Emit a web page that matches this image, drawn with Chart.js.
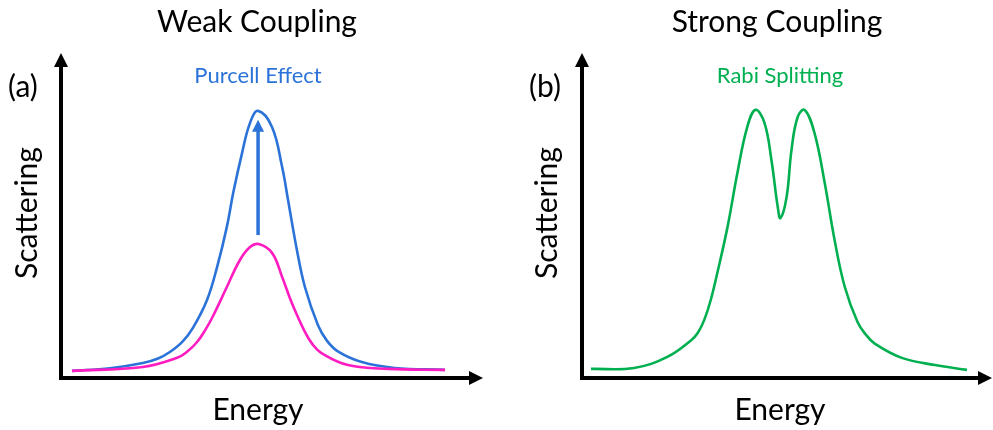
<!DOCTYPE html>
<html>
<head>
<meta charset="utf-8">
<script src="https://cdn.jsdelivr.net/npm/chart.js@4.4.1/dist/chart.umd.min.js"></script>
<style>
  html, body { margin: 0; padding: 0; background: #fff; }
  #wrap { position: relative; width: 993px; height: 430px; overflow: hidden; font-family: Lato, "Noto Sans", sans-serif; color: #000; }
  .panel { position: absolute; top: 0; height: 430px; }
  .txt { position: absolute; white-space: nowrap; font-size: 30px; line-height: 30px; }
  .mid { transform: translateX(-50%); }
  .note { font-size: 22px; line-height: 22px; }
  .vert { transform: translate(-50%, -50%) rotate(-90deg); }
</style>
</head>
<body>
<div id="wrap">
  <div class="panel" style="left:0;width:496px"><canvas id="weak" width="496" height="430"></canvas></div>
  <div class="panel" style="left:496px;width:497px"><canvas id="strong" width="497" height="430"></canvas></div>

  <div class="txt mid" style="left:257px;top:5px">Weak Coupling</div>
  <div class="txt mid" style="left:777px;top:5px">Strong Coupling</div>
  <div class="txt" style="left:8px;top:70px">(a)</div>
  <div class="txt" style="left:529px;top:70px">(b)</div>
  <div class="txt note mid" id="purcell" style="left:258px;top:64px">Purcell Effect</div>
  <div class="txt note mid" id="rabi" style="left:780px;top:64px">Rabi Splitting</div>
  <div class="txt vert" style="left:25px;top:213px">Scattering</div>
  <div class="txt vert" style="left:545px;top:213px">Scattering</div>
  <div class="txt mid" style="left:258px;top:393px">Energy</div>
  <div class="txt mid" style="left:780px;top:393px">Energy</div>
</div>

<script>
// energy axis runs 0..10, scattering 0..10 (arbitrary units)
const bareEnergy = [0.26, 1.94, 2.75, 2.98, 3.22, 3.42, 3.60, 3.93, 4.24, 4.48, 4.68, 5.00, 5.24, 5.47, 5.78, 5.97, 6.18, 6.80, 7.75, 9.10];
const bareScatter = [0.22, 0.34, 0.62, 0.80, 1.10, 1.48, 1.90, 2.80, 3.63, 4.03, 4.12, 3.85, 3.11, 2.31, 1.42, 1.02, 0.76, 0.40, 0.28, 0.25];

const purcellEnergy = [0.26, 1.16, 1.94, 2.30, 2.58, 2.88, 3.13, 3.46, 3.70, 3.93, 4.08, 4.29, 4.48, 4.67, 5.00, 5.24, 5.38, 5.59, 5.78, 6.09, 6.30, 6.56, 7.13, 7.91, 9.10];
const purcellScatter = [0.22, 0.30, 0.46, 0.60, 0.80, 1.12, 1.55, 2.40, 3.42, 4.65, 5.69, 6.92, 7.85, 8.22, 7.72, 6.49, 5.48, 3.94, 2.80, 1.62, 1.15, 0.82, 0.49, 0.31, 0.25];

const rabiEnergy = [0.22, 1.27, 2.08, 2.67, 2.83, 2.98, 3.14, 3.30, 3.55, 3.79, 4.03, 4.23, 4.45, 4.62, 4.77, 4.84, 4.99, 5.11, 5.26, 5.43, 5.67, 5.92, 6.16, 6.41, 6.72, 6.92, 7.14, 7.80, 8.61, 9.39];
const rabiScatter = [0.28, 0.31, 0.65, 1.17, 1.40, 1.78, 2.40, 3.23, 4.65, 6.31, 7.72, 8.25, 7.85, 6.71, 5.30, 4.92, 5.57, 7.02, 8.03, 8.25, 7.54, 6.00, 4.25, 2.80, 1.72, 1.34, 1.06, 0.62, 0.40, 0.25];

const BLUE = '#2b73d8';
const PINK = '#ff1cc0';
const GREEN = '#00b050';

document.getElementById('purcell').style.color = BLUE;
document.getElementById('rabi').style.color = GREEN;

function pts(xs, ys) {
  return xs.map((x, i) => ({ x: x, y: ys[i] }));
}

function arrowHead(ctx, x, y, dir, len, half) {
  // dir: 'up' or 'right', tip at (x, y)
  ctx.beginPath();
  if (dir === 'up') {
    ctx.moveTo(x, y);
    ctx.lineTo(x - half, y + len);
    ctx.lineTo(x + half, y + len);
  } else {
    ctx.moveTo(x, y);
    ctx.lineTo(x - len, y - half);
    ctx.lineTo(x - len, y + half);
  }
  ctx.closePath();
  ctx.fill();
}

// black axes with arrowheads along the chart area edges
const axisArrows = {
  id: 'axisArrows',
  afterDraw(chart) {
    const { ctx, chartArea: a } = chart;
    ctx.save();
    ctx.strokeStyle = '#000';
    ctx.fillStyle = '#000';
    ctx.lineWidth = 4;
    ctx.beginPath();
    ctx.moveTo(a.left, a.top + 10);
    ctx.lineTo(a.left, a.bottom + 2);
    ctx.moveTo(a.left - 2, a.bottom);
    ctx.lineTo(a.right - 10, a.bottom);
    ctx.stroke();
    arrowHead(ctx, a.left, a.top, 'up', 14, 7);
    arrowHead(ctx, a.right, a.bottom, 'right', 14, 7);
    ctx.restore();
  }
};

// vertical arrow from the bare peak up to the enhanced peak
const peakArrow = {
  id: 'peakArrow',
  afterDatasetsDraw(chart) {
    const xs = chart.scales.x, ys = chart.scales.y;
    const top = Math.max(...purcellScatter);
    const low = Math.max(...bareScatter);
    const xPeak = purcellEnergy[purcellScatter.indexOf(top)];
    const x = xs.getPixelForValue(xPeak);
    const yTip = ys.getPixelForValue(top) + 9;
    const yBase = ys.getPixelForValue(low) - 9;
    const ctx = chart.ctx;
    ctx.save();
    ctx.strokeStyle = BLUE;
    ctx.fillStyle = BLUE;
    ctx.lineWidth = 3.5;
    ctx.beginPath();
    ctx.moveTo(x, yBase);
    ctx.lineTo(x, yTip + 8);
    ctx.stroke();
    arrowHead(ctx, x, yTip, 'up', 12, 6);
    ctx.restore();
  }
};

function options(pad) {
  return {
    responsive: false,
    animation: false,
    events: [],
    layout: { padding: pad },
    plugins: { legend: { display: false }, tooltip: { enabled: false } },
    elements: { point: { radius: 0 }, line: { borderWidth: 2.6, tension: 0.4 } },
    scales: {
      x: { type: 'linear', min: 0, max: 10, display: false },
      y: { min: 0, max: 10, display: false }
    }
  };
}

new Chart(document.getElementById('weak'), {
  type: 'line',
  data: {
    datasets: [
      { label: 'Bare', data: pts(bareEnergy, bareScatter), borderColor: PINK, fill: false },
      { label: 'Purcell', data: pts(purcellEnergy, purcellScatter), borderColor: BLUE, fill: false }
    ]
  },
  options: options({ left: 61, right: 13, top: 53, bottom: 52 }),
  plugins: [axisArrows, peakArrow]
});

new Chart(document.getElementById('strong'), {
  type: 'line',
  data: {
    datasets: [
      { label: 'Rabi', data: pts(rabiEnergy, rabiScatter), borderColor: GREEN, fill: false }
    ]
  },
  options: options({ left: 86, right: 1, top: 53, bottom: 52 }),
  plugins: [axisArrows]
});
</script>
</body>
</html>
